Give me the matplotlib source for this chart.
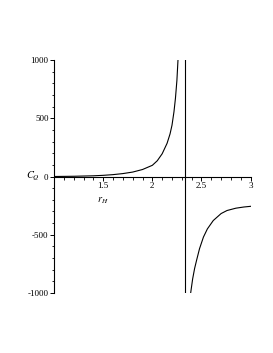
import matplotlib
matplotlib.use("Agg")
import matplotlib.pyplot as plt
from matplotlib.ticker import MultipleLocator

# values (Maple-style plot of C_Q vs r_H)
r_left = [1.0, 1.2, 1.4, 1.5, 1.6, 1.7, 1.8, 1.9, 2.0, 2.05, 2.1, 2.15, 2.18, 2.2, 2.22, 2.235, 2.25, 2.261]
c_left = [0, 2, 6, 10, 16, 25, 38, 60, 96, 135, 195, 285, 365, 440, 555, 670, 825, 1000]
r_right = [2.39, 2.41, 2.43, 2.45, 2.48, 2.52, 2.56, 2.62, 2.7, 2.76, 2.85, 2.93, 3.0]
c_right = [-1000, -880, -790, -720, -620, -520, -450, -378, -318, -292, -272, -262, -256]
r_asym = 2.329
x_ticks = [1.5, 2, 2.5, 3]
y_ticks = [-1000, -500, 0, 500, 1000]

plt.rcParams["font.family"] = ["Liberation Serif", "DejaVu Serif"]
plt.rcParams["mathtext.fontset"] = "stix"
fig = plt.figure(figsize=(2.73, 3.53), dpi=100)
ax = fig.add_axes([0.198, 0.170, 0.720, 0.660])

ax.plot(r_left, c_left, color="black", lw=0.8)
ax.plot(r_right, c_right, color="black", lw=0.8)
ax.plot([r_asym, r_asym], [1000, -1000], color="black", lw=0.8)

ax.set_xlim(1, 3)
ax.set_ylim(-1000, 1000)
ax.spines["left"].set_position(("data", 1))
ax.spines["bottom"].set_position(("data", 0))
ax.spines["right"].set_visible(False)
ax.spines["top"].set_visible(False)
for s in ("left", "bottom"):
    ax.spines[s].set_linewidth(0.8)

ax.set_xticks(x_ticks)
ax.set_xticklabels([str(t) for t in x_ticks])
ax.set_yticks(y_ticks)
ax.set_yticklabels(["-1000", "-500", "0", "500", "1000"])
ax.xaxis.set_minor_locator(MultipleLocator(0.1))
ax.yaxis.set_minor_locator(MultipleLocator(100))
ax.tick_params(which="major", direction="out", length=3, width=0.7, labelsize=6.5, pad=1)
ax.tick_params(which="minor", direction="out", length=1.8, width=0.6)

ax.text(-0.107, 0.5, "$C_Q$", transform=ax.transAxes, fontsize=7.5,
        ha="center", va="center")
ax.text(1.5, -205, "$r_H$", fontsize=7.5, ha="center", va="center")

fig.savefig("out.png", dpi=100)
